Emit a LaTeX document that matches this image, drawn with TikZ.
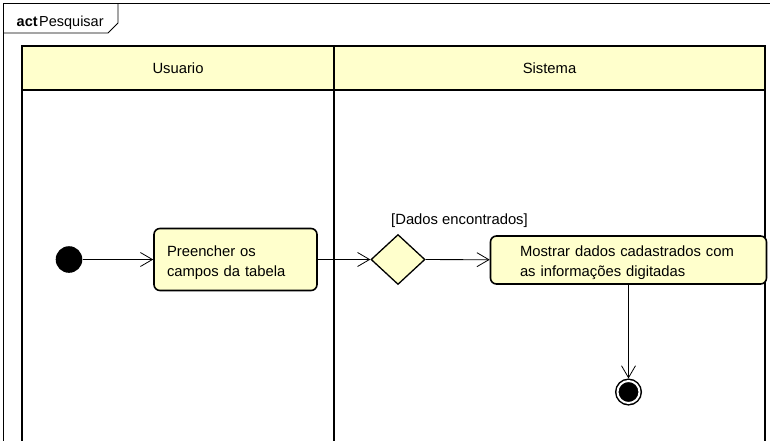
\documentclass[tikz,border=0pt]{standalone}
\usepackage{fontspec}
\setmainfont{Liberation Sans}
\usetikzlibrary{arrows.meta,shapes.geometric}
\definecolor{Amarelo}{HTML}{FFFFCC}

\tikzset{
  acao/.style={draw, rounded corners=6pt, line width=1.6pt, fill=Amarelo, align=left, font=\fontsize{14.8}{20}\selectfont, execute at begin node={\rule{0pt}{16.6pt}}},
  decisao/.style={draw, diamond, line width=1.3pt, fill=Amarelo, minimum width=54pt, minimum height=50pt, inner sep=0pt},
  fluxo/.style={line width=0.8pt, -{Straight Barb[length=12pt,width=14pt]}},
  raia/.style={line width=1.6pt},
  rotulo/.style={font=\fontsize{14.8}{18}\selectfont},
}

\begin{document}
\begin{tikzpicture}[x=1pt,y=-1pt]%
\useasboundingbox (0,0) rectangle (770,440);%
\clip (0,0) rectangle (770,440);%
% moldura do diagrama
\draw[line width=0.8pt] (3,450) -- (3,3) -- (780,3);%
\draw[line width=0.8pt] (3,33) -- (108,33) -- (118,23) -- (118,3);%
\node[anchor=base west, inner sep=0pt, font=\fontsize{14.5}{16}\selectfont] (titulo) at (16.5,26) {\textbf{act}\hspace{1.5pt}Pesquisar};%
% raias
\draw[raia, fill=Amarelo] (22,46) rectangle (765,90);%
\draw[raia] (22,90) -- (22,450);%
\draw[raia] (334,46) -- (334,450);%
\draw[raia] (765,90) -- (765,450);%
\node[rotulo] (usuario) at (178,68) {Usuario};%
\node[rotulo] (sistema) at (549.5,68) {Sistema};%
% nos
\node[circle, fill=black, minimum size=26.6pt, inner sep=0pt] (inicio) at (69,259.5) {};%
\node[acao, minimum width=163pt, minimum height=62pt, text width=137pt, inner xsep=13pt] (preencher) at (235.5,259.5) {Preencher os\\campos da tabela};%
\node[decisao] (decisao) at (398,259.5) {};%
\node[rotulo, anchor=west, inner sep=0pt] (guarda) at (391,221) {[Dados encontrados]};%
\node[acao, minimum width=276pt, minimum height=48pt, text width=217pt, inner xsep=29.5pt] (mostrar) at (628.5,260) {Mostrar dados cadastrados com\\as informações digitadas};%
\node[circle, draw, fill=black, double=white, double distance=2pt, line width=1.5pt, minimum size=22pt, inner sep=0pt, outer sep=2.5pt] (fim) at (628.5,392) {};%
% fluxos
\draw[fluxo] (inicio) -- (preencher);%
\draw[fluxo] (preencher) -- (decisao);%
\draw[fluxo] (decisao) -- (mostrar);%
\draw[fluxo] (mostrar) -- (fim);%
\end{tikzpicture}
\end{document}
